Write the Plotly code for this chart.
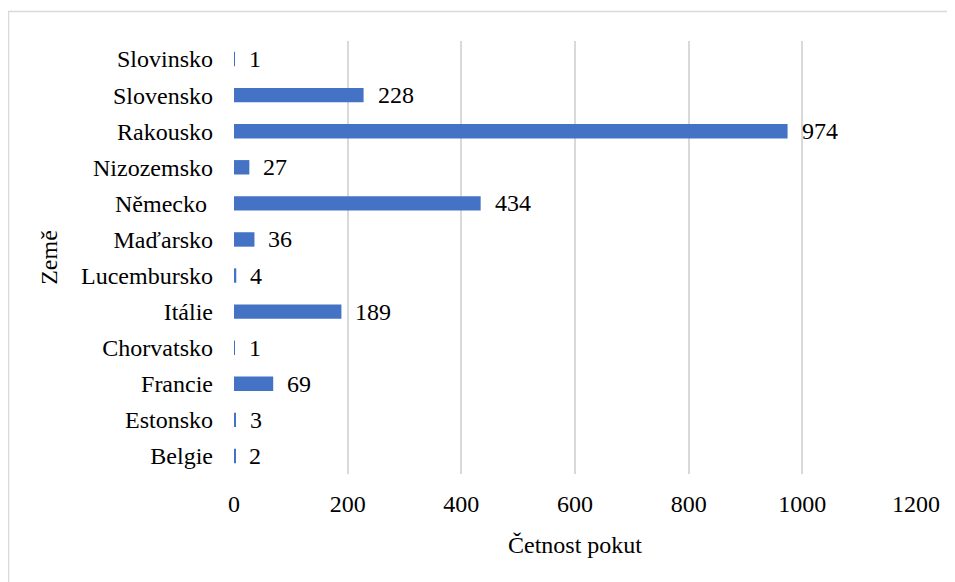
import plotly.graph_objects as go

countries = ["Belgie", "Estonsko", "Francie", "Chorvatsko", "Itálie", "Lucembursko",
             "Maďarsko", "Německo\u00a0", "Nizozemsko", "Rakousko", "Slovensko", "Slovinsko"]
counts = [2, 3, 69, 1, 189, 4, 36, 434, 27, 974, 228, 1]
x_ticks = [0, 200, 400, 600, 800, 1000, 1200]

FONT = "Liberation Serif"
FS = 24

fig = go.Figure()
fig.add_trace(go.Bar(
    y=countries, x=counts, orientation="h",
    marker=dict(color="#4472C4", line=dict(width=0)),
    width=0.4,
))

for c, v in zip(countries, counts):
    fig.add_annotation(x=v, y=c, text=str(v), showarrow=False,
                       xanchor="left", yanchor="middle", xshift=12,
                       font=dict(family=FONT, size=FS, color="#000000"))

# page body has an 8px margin, so figure coords = screen coords - 8
OFF = 8
W, H = 955, 582
L, R, T, B = 234 - OFF, W - (916 - OFF), 41 - OFF, H - (474 - OFF)
pw, ph = W - L - R, H - T - B

fig.add_shape(type="rect", xref="paper", yref="paper",
              x0=(8.5 - OFF - L) / pw, x1=(W + 20 - L) / pw,
              y0=-(H + 20 - T - ph) / ph, y1=1 + (T - (11.5 - OFF)) / ph,
              line=dict(color="#D9D9D9", width=1.5), fillcolor="rgba(0,0,0,0)", layer="below")

fig.update_layout(
    width=W, height=H,
    margin=dict(l=L, r=R, t=T, b=B, pad=0),
    plot_bgcolor="white", paper_bgcolor="white",
    font=dict(family=FONT, size=FS, color="#000000"),
    showlegend=False,
    xaxis=dict(range=[0, 1200], tickvals=x_ticks, ticktext=[str(t) for t in x_ticks],
               showgrid=True, gridcolor="#D9D9D9", gridwidth=1.5,
               zeroline=False, showline=False, ticks="",
               ticklabelstandoff=13,
               title=dict(text="Četnost pokut", font=dict(family=FONT, size=FS), standoff=20)),
    yaxis=dict(categoryorder="array", categoryarray=countries,
               showgrid=False, zeroline=False, showline=False, ticks="",
               ticklabelstandoff=20,
               title=dict(text="Země", font=dict(family=FONT, size=FS), standoff=16)),
)

fig.write_html("out.html")
